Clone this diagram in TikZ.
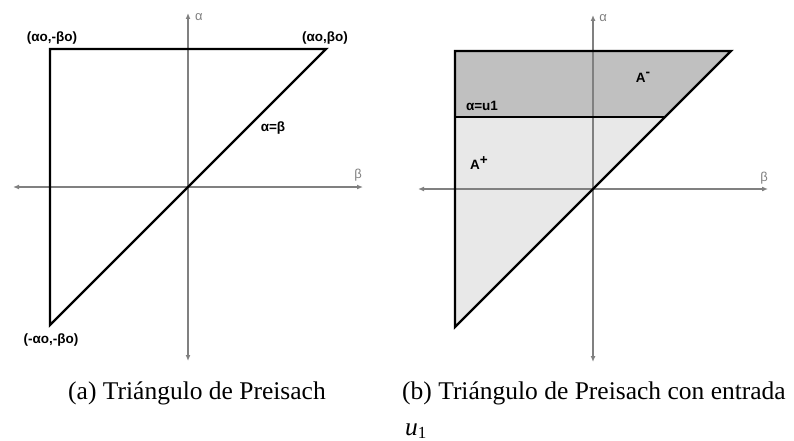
\documentclass[tikz,border=0pt]{standalone}
\usepackage{fontspec}
\setmainfont{Liberation Serif}
\newfontfamily\labfont{Liberation Sans}
\usetikzlibrary{arrows.meta}
\definecolor{axisgray}{HTML}{808080}
\definecolor{darkfill}{HTML}{C0C0C0}
\definecolor{lightfill}{HTML}{E8E8E8}
\tikzset{
  axisline/.style={draw=axisgray, line width=1.4pt, {Latex[length=6pt,width=5pt]}-{Latex[length=6pt,width=5pt]}},
  outline/.style={draw=black, line width=2.4pt, line join=miter},
  ptlabel/.style={font=\labfont\bfseries\fontsize{13.5}{15}\selectfont, inner sep=0pt},
  axlabel/.style={font=\labfont\fontsize{13}{15}\selectfont, text=axisgray, inner sep=0pt},
  captext/.style={font=\fontsize{25.5}{30}\selectfont, inner sep=0pt},
}
\begin{document}
\begin{tikzpicture}[x=1pt,y=-1pt]
\useasboundingbox (0,0) rectangle (794,441);
% ---------- left diagram ----------
\coordinate (LaT) at (188,13);
\coordinate (LaB) at (188,361);
\coordinate (LbL) at (13,187);
\coordinate (LbR) at (363,187);
\coordinate (LTL) at (50,49);
\coordinate (LTR) at (326,49);
\coordinate (LBL) at (50,325);
\draw[axisline] (LaB) -- (LaT);
\draw[axisline] (LbL) -- (LbR);
\draw[outline] (LTL) -- (LTR) -- (LBL) -- cycle;
\node[axlabel] (la) at (199,17) {α};
\node[axlabel] (lb) at (358,175) {β};
\node[ptlabel] (l1) at (52,38) {(αo,-βo)};
\node[ptlabel] (l2) at (325,38) {(αo,βo)};
\node[ptlabel] (l3) at (273,128) {α=β};
\node[ptlabel] (l4) at (51,340) {(-αo,-βo)};
% ---------- right diagram ----------
\coordinate (RaT) at (593,15);
\coordinate (RaB) at (593,362);
\coordinate (RbL) at (418,189);
\coordinate (RbR) at (768,189);
\coordinate (RTL) at (455,51);
\coordinate (RTR) at (731,51);
\coordinate (RML) at (455,117);
\coordinate (RMR) at (665,117);
\coordinate (RBL) at (455,327);
\fill[darkfill] (RTL) -- (RTR) -- (RMR) -- (RML) -- cycle;
\fill[lightfill] (RML) -- (RMR) -- (RBL) -- cycle;
\draw[axisline] (RaB) -- (RaT);
\draw[axisline] (RbL) -- (RbR);
\draw[outline] (RTL) -- (RTR) -- (RBL) -- cycle;
\draw[outline] (RML) -- (RMR);
\node[axlabel] (ra) at (603,18) {α};
\node[axlabel] (rb) at (764,178) {β};
\node[ptlabel] (r1) at (482,106) {α=u1};
\node[ptlabel] (r2) at (643,77) {A\raisebox{0.45em}{-}};
\node[ptlabel] (r3) at (479,163) {A\raisebox{0.4em}{+}};
% ---------- captions ----------
\node[captext, anchor=base] (capa) at (197,399) {(a) Triángulo de Preisach};
\node[captext, anchor=base west] (capb) at (402,399) {(b) Triángulo de Preisach con entrada};
\node[captext, anchor=base west] (capu) at (405,435) {\textit{u}\raisebox{-0.15em}{\fontsize{17}{19}\selectfont 1}};
\end{tikzpicture}
\end{document}
